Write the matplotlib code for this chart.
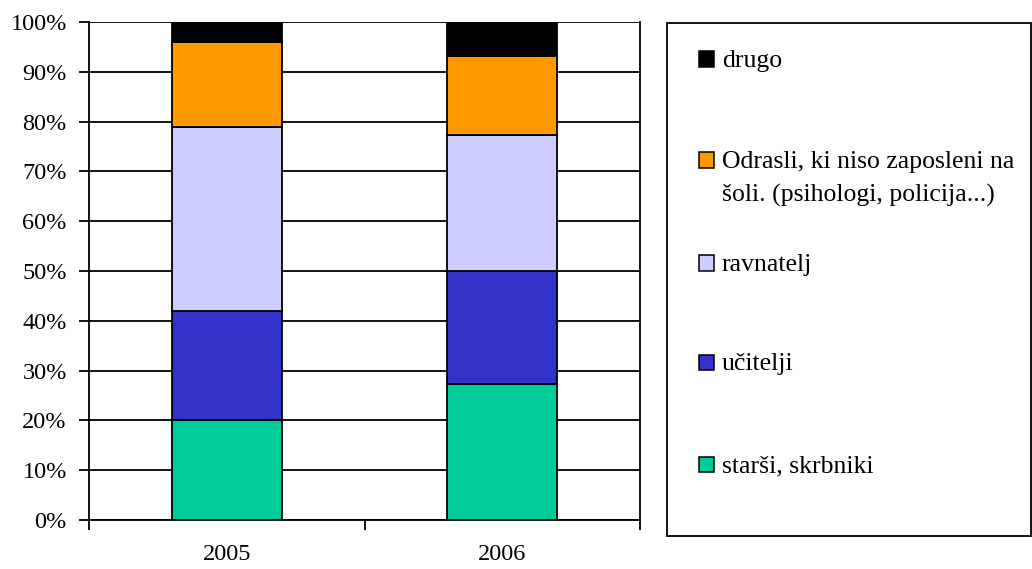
import numpy as np
from matplotlib import pyplot as plt
from matplotlib.patches import Rectangle
from matplotlib.ticker import FixedLocator, PercentFormatter

plt.rcParams['font.family'] = ['Liberation Serif', 'DejaVu Serif']

# data (percent shares per year)
years = ['2005', '2006']
series_names = ['starši, skrbniki', 'učitelji', 'ravnatelj',
                'Odrasli, ki niso zaposleni na\nšoli. (psihologi, policija...)', 'drugo']
starsi = [20.0, 27.4]
ucitelji = [22.0, 22.6]
ravnatelj = [37.0, 27.3]
odrasli = [17.0, 15.9]
drugo = [4.0, 6.8]
colors = ['#00CC99', '#3333CC', '#CCCCFF', '#FF9900', '#000000']

values = [starsi, ucitelji, ravnatelj, odrasli, drugo]

fig = plt.figure(figsize=(10.32, 5.69), dpi=100)
ax = fig.add_axes([89 / 1032, 1 - 520 / 569, 551 / 1032, 498 / 569])

x = np.arange(len(years))
bottom = np.zeros(len(years))
for vals, col in zip(values, colors):
    ax.bar(x, vals, width=0.4, bottom=bottom, color=col, edgecolor='black',
           linewidth=1.3, zorder=3)
    bottom += np.array(vals)

ax.set_xlim(-0.5, 1.5)
ax.set_ylim(0, 100)
ax.set_yticks(np.arange(0, 101, 10))
ax.yaxis.set_major_formatter(PercentFormatter(decimals=0))
ax.yaxis.grid(True, color='black', linewidth=1.3, zorder=0)
ax.set_axisbelow(True)

# x ticks at category boundaries, labels centered
ax.xaxis.set_major_locator(FixedLocator([-0.5, 0.5, 1.5]))
ax.xaxis.set_major_formatter(plt.NullFormatter())
ax.xaxis.set_minor_locator(FixedLocator(x))
ax.set_xticklabels(years, minor=True)
ax.tick_params(axis='x', which='minor', length=0, pad=17, labelsize=17.5)
ax.tick_params(axis='x', which='major', length=7, width=1.3, direction='out')
ax.tick_params(axis='y', length=7, width=1.3, direction='out', pad=9, labelsize=17.5)

ax.spines['top'].set_visible(False)
for s in ['left', 'bottom', 'right']:
    ax.spines[s].set_linewidth(1.3)

# legend box
W, H = 1032, 569
fig.patches.append(Rectangle((667 / W, 1 - 536 / H), (1031 - 667) / W, (536 - 23) / H,
                             transform=fig.transFigure, fill=False,
                             edgecolor='black', linewidth=1.3))
entry_y = [464, 362, 263, 160, 59]
for name, col, yy in zip(series_names, colors, entry_y):
    fig.patches.append(Rectangle((699 / W, 1 - (yy + 7.5) / H), 15 / W, 15 / H,
                                 transform=fig.transFigure, facecolor=col,
                                 edgecolor='black', linewidth=1.1))
    for i, line in enumerate(name.split('\n')):
        fig.text(722 / W, 1 - (yy + 8 + 34 * i) / H, line, fontsize=18.5,
                 va='baseline', ha='left')

fig.savefig('out.png', dpi=100)
